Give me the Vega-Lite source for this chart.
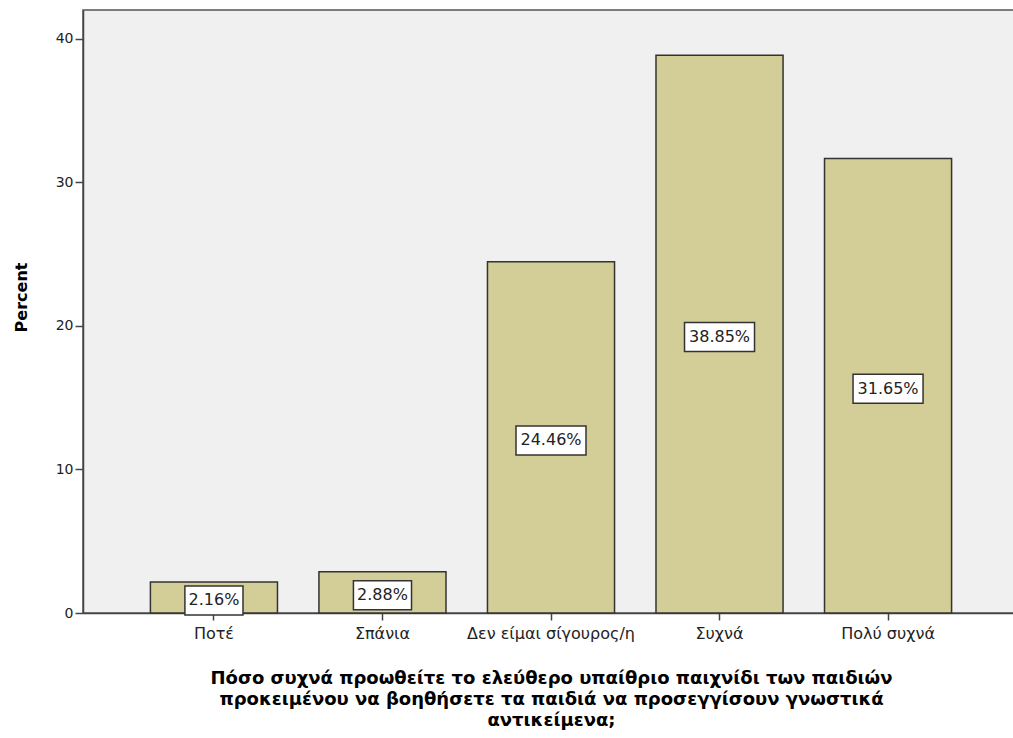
{
  "$schema": "https://vega.github.io/schema/vega-lite/v6.json",
  "width": 936,
  "height": 603,
  "autosize": {"type": "none"},
  "padding": {"left": 83, "top": 10, "right": 0, "bottom": 125},
  "background": "white",
  "config": {
    "font": "DejaVu Sans",
    "view": {"fill": "#F0F0F0", "stroke": "#555555", "strokeWidth": 1.5}
  },
  "data": {
    "values": [
      {"cat": "Ποτέ", "pct": 2.16, "label": "2.16%"},
      {"cat": "Σπάνια", "pct": 2.88, "label": "2.88%"},
      {"cat": "Δεν είμαι σίγουρος/η", "pct": 24.46, "label": "24.46%"},
      {"cat": "Συχνά", "pct": 38.85, "label": "38.85%"},
      {"cat": "Πολύ συχνά", "pct": 31.65, "label": "31.65%"}
    ]
  },
  "transform": [{"calculate": "datum.pct / 2", "as": "mid"}],
  "encoding": {
    "x": {
      "field": "cat",
      "type": "nominal",
      "sort": null,
      "scale": {"paddingInner": 0.246, "paddingOuter": 0.4},
      "axis": {
        "labelAngle": 0,
        "labelFont": "DejaVu Sans",
        "labelFontSize": 16,
        "labelColor": "#222222",
        "labelPadding": 5,
        "domainColor": "#444444",
        "domainWidth": 1.5,
        "tickColor": "#444444",
        "tickSize": 7,
        "tickWidth": 1.5,
        "title": ["Πόσο συχνά προωθείτε το ελεύθερο υπαίθριο παιχνίδι των παιδιών", "προκειμένου να  βοηθήσετε τα παιδιά να  προσεγγίσουν γνωστικά", "αντικείμενα;"],
        "titleFont": "DejaVu Sans",
        "titleFontSize": 18,
        "titleFontWeight": "bold",
        "titleColor": "#000000",
        "titleLineHeight": 21,
        "titleBaseline": "top",
        "titleY": 56
      }
    }
  },
  "layer": [
    {
      "mark": {"type": "bar", "fill": "#D3CE97", "stroke": "#333333", "strokeWidth": 1.5},
      "encoding": {
        "y": {
          "field": "pct",
          "type": "quantitative",
          "scale": {"domain": [0, 42], "nice": false},
          "axis": {
            "values": [0, 10, 20, 30, 40],
            "grid": false,
            "labelFont": "DejaVu Sans",
            "labelFontSize": 14,
            "labelColor": "#222222",
            "labelPadding": 2,
            "domainColor": "#444444",
            "domainWidth": 1.5,
            "tickColor": "#444444",
            "tickSize": 8,
            "tickWidth": 1.5,
            "title": "Percent",
            "titleFont": "DejaVu Sans",
            "titleFontSize": 16,
            "titleFontWeight": "bold",
            "titleColor": "#000000",
            "titleX": -62,
            "titleY": 287,
            "titleAlign": "center",
            "titleBaseline": "middle"
          }
        }
      }
    },
    {
      "mark": {
        "type": "point",
        "filled": true,
        "fill": "white",
        "stroke": "#333333",
        "strokeWidth": 1.5,
        "opacity": 1,
        "size": 4900,
        "yOffset": 3
      },
      "encoding": {
        "y": {"field": "mid", "type": "quantitative"},
        "shape": {
          "condition": {"test": "datum.pct < 10", "value": "M-0.83,-0.414H0.83V0.414H-0.83Z"},
          "value": "M-1,-0.414H1V0.414H-1Z"
        }
      }
    },
    {
      "mark": {"type": "text", "font": "DejaVu Sans", "fontSize": 16, "color": "#222222", "baseline": "middle", "yOffset": 3},
      "encoding": {
        "y": {"field": "mid", "type": "quantitative"},
        "text": {"field": "label"}
      }
    }
  ]
}
